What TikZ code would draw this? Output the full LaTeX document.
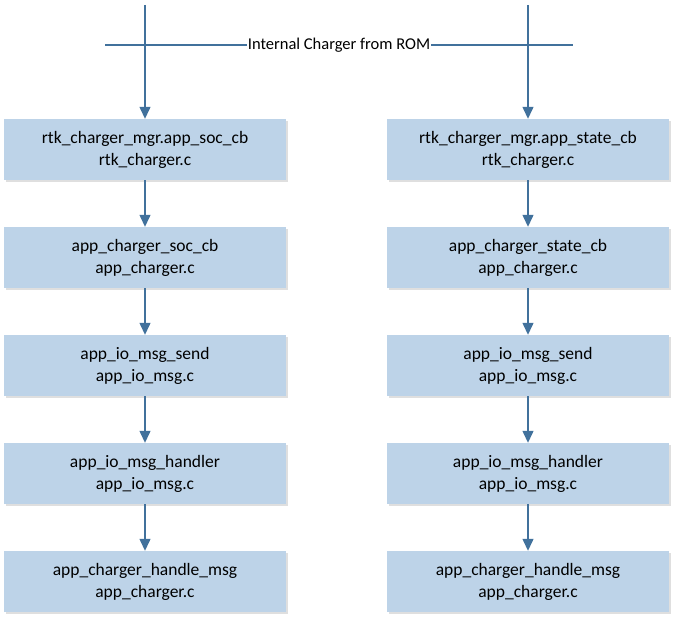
\documentclass[tikz,border=0pt]{standalone}
\usepackage{fontspec}
\setmainfont{Carlito}
\usetikzlibrary{arrows.meta,shadows}

\definecolor{boxblue}{HTML}{BDD3E8}
\definecolor{lineblue}{HTML}{41719C}

\tikzset{
    fnbox/.style={fill=boxblue, minimum width=282pt, minimum height=61pt, align=center,
        font=\fontsize{17.5}{22}\selectfont,
        drop shadow={shadow xshift=2pt, shadow yshift=-2pt, opacity=0.25, fill=gray}},
    flow/.style={draw=lineblue, line width=1.3pt, -{Triangle[width=11pt,length=12pt]}}
}

\begin{document}
\begin{tikzpicture}[x=1pt, y=-1pt]
    \useasboundingbox (0,0) rectangle (681,623);
    % soc path
    \node[fnbox] (soca) at (145,149.5) {rtk\_charger\_mgr.app\_soc\_cb\\rtk\_charger.c};
    \node[fnbox] (socb) at (145,257.5) {app\_charger\_soc\_cb\\app\_charger.c};
    \node[fnbox] (socc) at (145,365.5) {app\_io\_msg\_send\\app\_io\_msg.c};
    \node[fnbox] (socd) at (145,473.5) {app\_io\_msg\_handler\\app\_io\_msg.c};
    \node[fnbox] (soce) at (145,581.5) {app\_charger\_handle\_msg\\app\_charger.c};
    % state path
    \node[fnbox] (sta) at (528,149.5) {rtk\_charger\_mgr.app\_state\_cb\\rtk\_charger.c};
    \node[fnbox] (stb) at (528,257.5) {app\_charger\_state\_cb\\app\_charger.c};
    \node[fnbox] (stc) at (528,365.5) {app\_io\_msg\_send\\app\_io\_msg.c};
    \node[fnbox] (std) at (528,473.5) {app\_io\_msg\_handler\\app\_io\_msg.c};
    \node[fnbox] (ste) at (528,581.5) {app\_charger\_handle\_msg\\app\_charger.c};

    \coordinate (soctop) at (145,5);
    \coordinate (sttop) at (528,5);
    \coordinate (romw) at (105,45);
    \coordinate (rome) at (573,45);
    \draw[flow] (soctop) -- (soca);
    \draw[flow] (sttop) -- (sta);
    \draw[lineblue, line width=1.3pt] (romw) -- (rome);
    \node[fill=white, inner sep=1pt, font=\fontsize{16.5}{22}\selectfont] (rom) at (339,45) {Internal Charger from ROM};

    \draw[flow] (soca) -- (socb);
    \draw[flow] (socb) -- (socc);
    \draw[flow] (socc) -- (socd);
    \draw[flow] (socd) -- (soce);
    \draw[flow] (sta) -- (stb);
    \draw[flow] (stb) -- (stc);
    \draw[flow] (stc) -- (std);
    \draw[flow] (std) -- (ste);
\end{tikzpicture}
\end{document}
